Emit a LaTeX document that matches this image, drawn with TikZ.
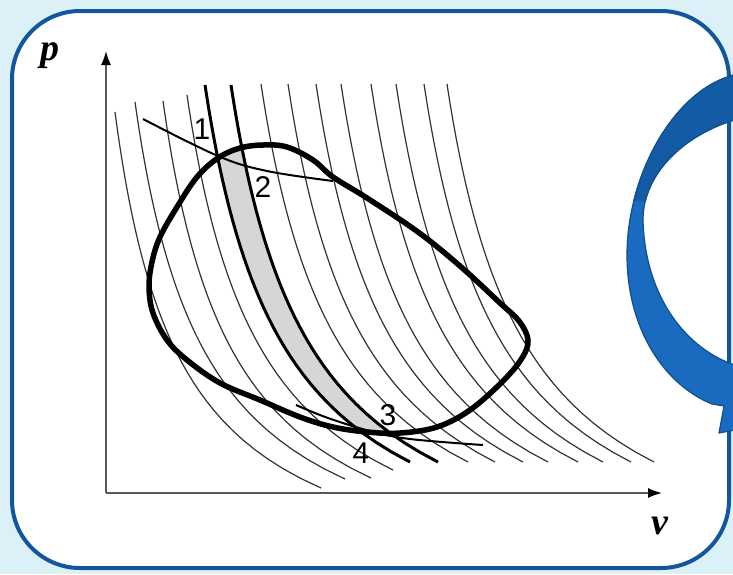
\documentclass[tikz,border=0pt]{standalone}
\usepackage{fontspec}
\setsansfont{Liberation Sans}
\newfontfamily\axisfont{Liberation Serif}
\usetikzlibrary{arrows.meta}

\begin{document}
\begin{tikzpicture}[
  x=1pt, y=-1pt,
  >={Latex[length=14pt,width=10pt,color=black]},
  frame/.style={draw=fborder, line width=4pt, fill=white, rounded corners=68pt},
  axis/.style={->, draw=black!65, line width=1.6pt},
  isoline/.style={draw=black!80, line width=1.2pt},
  adiabat/.style={draw=black, line width=3pt},
  crossline/.style={draw=black, line width=2pt},
  cycleline/.style={draw=black, line width=5.5pt, line join=round},
  strip/.style={fill=black!16},
  ribbon/.style={fill=rblue, draw=redge, line width=1.2pt},
  ptlabel/.style={font=\sffamily\fontsize{30}{30}\selectfont, inner sep=0pt},
  axlabel/.style={font=\axisfont\bfseries\itshape\fontsize{38}{38}\selectfont, inner sep=0pt},
  declare function={isoX(\vv,\ww,\zz)=\ww+\zz*(1000/(606.9-\vv));}
]
\definecolor{bgblue}{HTML}{DCF0F8}
\definecolor{fborder}{HTML}{12579B}
\definecolor{rblue}{HTML}{1A6BC0}
\definecolor{rdark}{HTML}{135CA5}
\definecolor{redge}{HTML}{0E4F90}

\useasboundingbox (0,0) rectangle (733,574);
\fill[bgblue] (0,0) rectangle (733,574);
\path[frame] (12,11) rectangle (729,568);

% cycle contour, used for the clip and the outline
\path[save path=\cyclepath] plot[smooth cycle, tension=.6] coordinates {
  (263,145) (287,147) (313,160) (333,177) (367,198) (418,232) (460,266)
  (500,303) (519,321) (528,340) (522,358) (503,381) (470,410) (437,427)
  (400,433) (367,432) (333,427) (300,417) (260,400) (220,383) (187,360)
  (167,340) (153,313) (149,287) (152,262) (160,237) (177,207) (197,177)
  (218,158) (240,148)};

\begin{scope}
  \clip[use path=\cyclepath];
  \fill[strip] plot[domain=85:462, samples=40, variable=\t] ({isoX(\t,126.21,41.12)}, \t)
    -- plot[domain=462:85, samples=40, variable=\t] ({isoX(\t,151.44,41.52)}, \t) -- cycle;
\end{scope}

% family of thin curves: top point / end point
\foreach \xt/\yt/\xe/\ye in {115/112/321/488, 135/102/345/479, 163/101/371/478,
    187/95/393/470, 261/84/468/462, 288/84/495/462, 316/84/523/462,
    341/84/548/462, 371/84/578/462, 396/84/603/462, 424/84/631/462, 447/84/654/462}{
  \pgfmathsetmacro{\gA}{1000/(606.9-\yt)}
  \pgfmathsetmacro{\gB}{1000/(606.9-\ye)}
  \pgfmathsetmacro{\kk}{(\xe-\xt)/(\gB-\gA)}
  \pgfmathsetmacro{\xo}{\xt-\kk*\gA}
  \draw[isoline] plot[domain=\yt:\ye, samples=40, variable=\t] ({isoX(\t,\xo,\kk)}, \t);
}

\draw[adiabat] plot[domain=85:462, samples=40, variable=\t] ({isoX(\t,126.21,41.12)}, \t);
\draw[adiabat] plot[domain=85:462, samples=40, variable=\t] ({isoX(\t,151.44,41.52)}, \t);

\draw[crossline] plot[smooth, tension=.6] coordinates {(143,119) (218,156) (267,171) (333,181)};
\draw[crossline] plot[smooth, tension=.6] coordinates {(296,405) (328,418) (370,431) (410,439) (483,445)};

\draw[cycleline, use path=\cyclepath];

\coordinate (origin) at (106,493);
\coordinate (ptop) at (106,51);
\coordinate (vend) at (662,493);
\draw[axis] (origin) -- (ptop);
\draw[axis] (origin) -- (vend);

\node[axlabel] (plabel) at (50,56) {p};
\node[axlabel] (vlabel) at (660,526) {v};

\node[ptlabel] (pt1) at (202,129) {1};
\node[ptlabel] (pt2) at (263,187) {2};
\node[ptlabel] (pt3) at (388,415) {3};
\node[ptlabel] (pt4) at (361,453) {4};

% blue circular arrow, cut by the picture edge
\begin{scope}
  \clip (0,0) rectangle (733,574);
  \path[save path=\ribbonpath] (745,73) .. controls (680,80) and (627,170) .. (627,255)
    .. controls (627,330) and (665,385) .. (712,404) -- (724,406) -- (719,433)
    -- (745,428) -- (745,368)
    .. controls (690,355) and (645,300) .. (643,220)
    .. controls (643,170) and (690,130) .. (745,117) -- cycle;
  \fill[ribbon, use path=\ribbonpath];
  \clip (600,0) rectangle (733,200);
  \fill[rdark, use path=\ribbonpath];
  \draw[redge, line width=1.2pt, use path=\ribbonpath];
\end{scope}
\end{tikzpicture}
\end{document}
